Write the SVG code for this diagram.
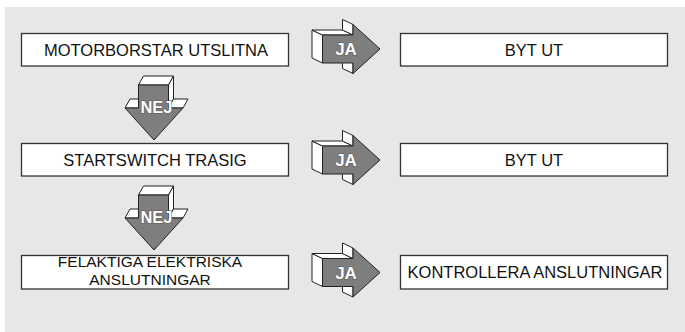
<svg xmlns="http://www.w3.org/2000/svg" width="685" height="332" viewBox="0 0 685 332">
<defs>
<style>
.box{fill:#fff;stroke:#333;stroke-width:1.3}
.t{font-family:"Liberation Sans",Arial,sans-serif;font-size:16.5px;fill:#111;text-anchor:middle}
.t2{font-size:15.5px}
.face{fill:#fff;stroke:#222;stroke-width:1;stroke-linejoin:round}
.front{fill:#7e7e7e;stroke:#222;stroke-width:1;stroke-linejoin:round}
.lbl{font-family:"Liberation Sans",Arial,sans-serif;font-weight:bold;fill:#fff;text-anchor:middle;stroke:#555;stroke-width:1;paint-order:stroke}
</style>
<g id="ja">
<polygon class="face" points="0,-19 10.5,-14 10.5,14 0,9"/>
<polygon class="face" points="0,-19 30.5,-19 41,-14 10.5,-14"/>
<polygon class="face" points="30.5,-19 30.5,-29.5 41,-24.5 41,-14"/>
<polygon class="face" points="30.5,9 41,14 41,24.5 30.5,19.5"/>
<polygon class="front" points="10.5,-14 41,-14 41,-24.5 68,0 41,24.5 41,14 10.5,14"/>
<text class="lbl" x="34" y="6" font-size="17">JA</text>
</g>
<g id="nej">
<polygon class="face" points="-15,0 -10,-9 20,-9 15,0"/>
<polygon class="face" points="15,0 20,-9 20,14 15,23"/>
<polygon class="face" points="15,23 20,14 34.5,14 29.5,23"/>
<polygon class="face" points="-28.5,23 -23.5,14 -15,14 -15,23"/>
<polygon class="front" points="-15,0 15,0 15,23 29.5,23 0.5,55 -28.5,23 -15,23"/>
<text class="lbl" x="3" y="28" font-size="16.5">NEJ</text>
</g>
</defs>
<rect x="5" y="7" width="680" height="325" fill="#e6e7e8"/>
<g id="n1"><rect class="box" x="21.5" y="33.5" width="267" height="32.5"/><text class="t" x="156" y="55.5">MOTORBORSTAR UTSLITNA</text></g>
<g id="n2"><rect class="box" x="400.5" y="33.5" width="267" height="32.5"/><text class="t" x="534" y="55.5">BYT UT</text></g>
<g id="n3"><rect class="box" x="21.5" y="143.5" width="267" height="32.5"/><text class="t" x="155" y="165.5">STARTSWITCH TRASIG</text></g>
<g id="n4"><rect class="box" x="400.5" y="143.5" width="267" height="32.5"/><text class="t" x="534" y="165.5">BYT UT</text></g>
<g id="n5"><rect class="box" x="21.5" y="255.5" width="267" height="33.5"/><text class="t t2" x="150" y="267">FELAKTIGA ELEKTRISKA</text><text class="t t2" x="150" y="284.5">ANSLUTNINGAR</text></g>
<g id="n6"><rect class="box" x="400.5" y="255.5" width="267" height="33.5"/><text class="t" x="535" y="278">KONTROLLERA ANSLUTNINGAR</text></g>
<g id="connectors">
<use href="#ja" x="312" y="49"/>
<use href="#ja" x="312" y="160"/>
<use href="#ja" x="312" y="272.5"/>
<use href="#nej" x="153.5" y="85"/>
<use href="#nej" x="153.5" y="195"/>
</g>
</svg>
